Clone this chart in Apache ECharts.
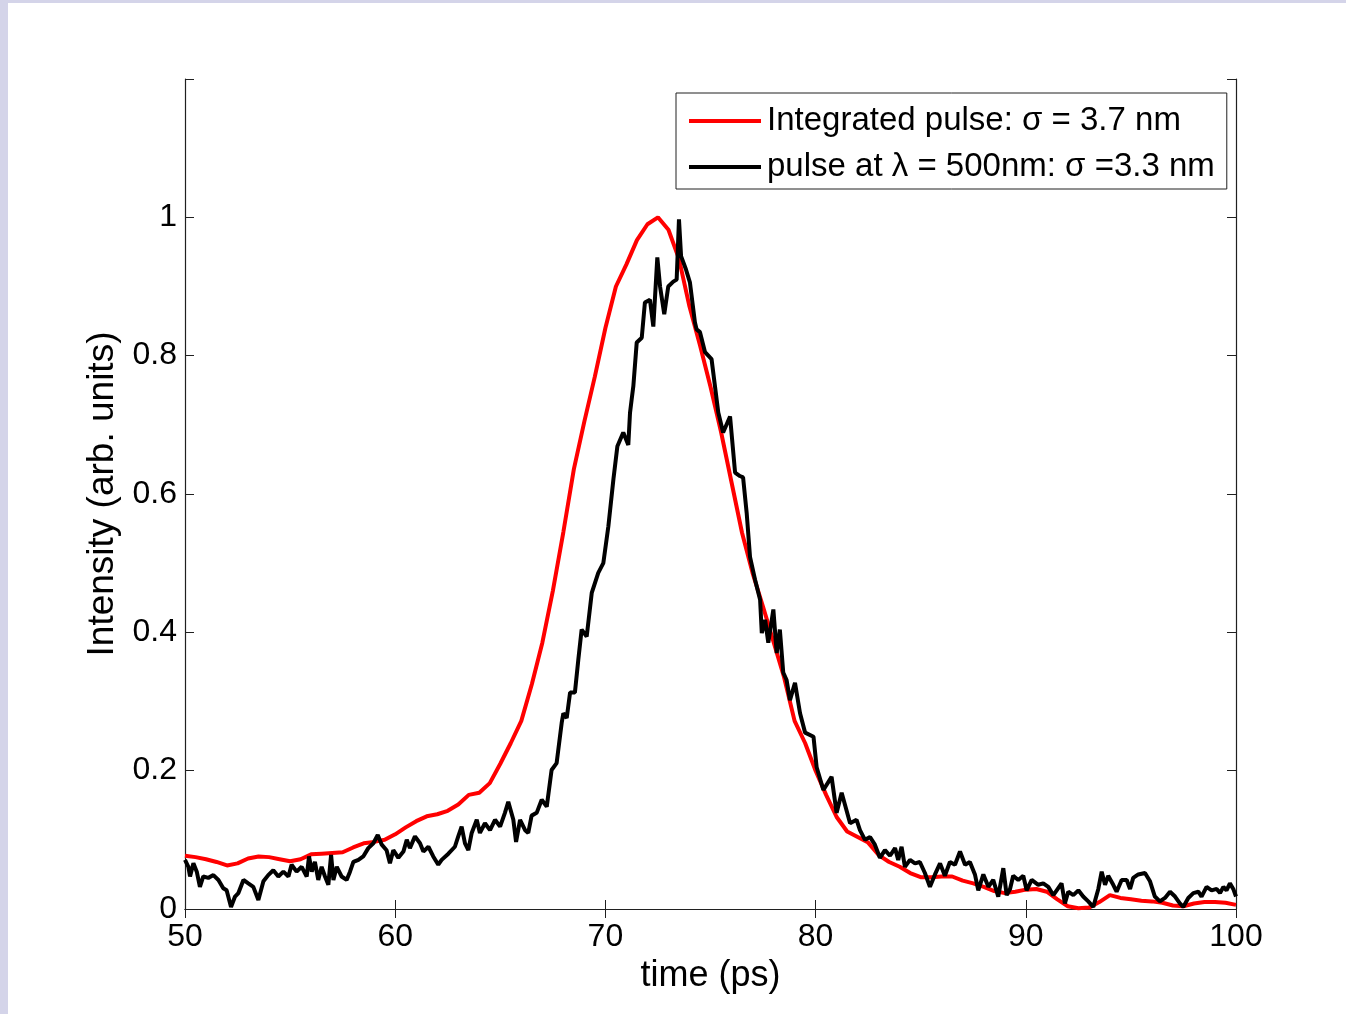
<!DOCTYPE html>
<html>
<head>
<meta charset="utf-8">
<script src="https://cdn.jsdelivr.net/npm/echarts@6/dist/echarts.min.js"></script>
<style>
html,body{margin:0;padding:0;background:#ffffff;}
#chart{width:1346px;height:1014px;}
</style>
</head>
<body>
<div id="chart"></div>
<script>
// ---- data ----
const xTicks = [50, 60, 70, 80, 90, 100];
const yTicks = [0, 0.2, 0.4, 0.6, 0.8, 1];
const seriesNames = ['Integrated pulse: σ = 3.7 nm', 'pulse at λ = 500nm: σ =3.3 nm'];

const redTime = [50,50.5,51,51.5,52,52.5,53,53.5,54,54.5,55,55.5,56,56.5,57,57.5,58,58.5,59,59.5,
  60,60.5,61,61.5,62,62.5,63,63.5,64,64.5,65,65.5,66,66.5,67,67.5,68,68.5,69,69.5,
  70,70.5,71,71.5,72,72.5,73,73.5,74,74.5,75,75.5,76,76.5,77,77.5,78,78.5,79,79.5,
  80,80.5,81,81.5,82,82.5,83,83.5,84,84.5,85,85.5,86,86.5,87,87.5,88,88.5,89,89.5,
  90,90.5,91,91.5,92,92.5,93,93.5,94,94.5,95,95.5,96,96.5,97,97.5,98,98.5,99,99.5,100];
const redValue = [0.077,0.075,0.072,0.068,0.063,0.066,0.073,0.076,0.075,0.072,0.069,0.072,0.079,0.080,0.081,0.082,0.089,0.095,0.097,0.100,
  0.108,0.118,0.127,0.134,0.137,0.142,0.151,0.165,0.168,0.182,0.21,0.24,0.272,0.325,0.385,0.46,0.545,0.636,0.705,0.77,
  0.84,0.9,0.932,0.967,0.99,1.0,0.982,0.94,0.871,0.815,0.755,0.69,0.617,0.544,0.486,0.437,0.386,0.335,0.272,0.24,
  0.2,0.165,0.133,0.112,0.104,0.096,0.078,0.068,0.061,0.052,0.046,0.046,0.047,0.047,0.041,0.037,0.032,0.026,0.023,0.025,
  0.028,0.029,0.025,0.014,0.004,0.001,0.002,0.010,0.020,0.016,0.014,0.012,0.011,0.009,0.005,0.004,0.008,0.010,0.010,0.009,0.006];

const blackTime = [50.00,50.16,50.24,50.40,50.56,50.71,50.87,51.11,51.35,51.59,51.82,51.98,52.19,52.38,52.54,52.78,53.01,53.25,53.49,53.73,
  53.96,54.20,54.44,54.68,54.92,55.07,55.31,55.55,55.79,55.90,56.03,56.18,56.34,56.50,56.66,56.82,56.95,57.06,57.22,57.45,
  57.69,57.85,58.01,58.25,58.48,58.72,58.96,59.17,59.36,59.59,59.75,59.91,60.15,60.39,60.55,60.70,60.94,61.18,61.34,61.58,
  61.81,62.05,62.21,62.53,62.84,63.00,63.16,63.32,63.48,63.64,63.88,64.03,64.27,64.51,64.75,64.99,65.22,65.38,65.62,65.75,
  65.94,66.18,66.33,66.49,66.73,66.97,67.21,67.28,67.44,67.68,67.92,68.00,68.16,68.32,68.55,68.71,68.87,69.11,69.35,69.66,
  69.90,70.14,70.38,70.57,70.85,71.09,71.17,71.25,71.33,71.49,71.73,71.88,72.12,72.28,72.47,72.60,72.80,72.99,73.23,73.39,
  73.50,73.60,73.83,74.02,74.26,74.34,74.50,74.74,75.05,75.37,75.60,75.93,76.17,76.40,76.55,76.72,76.88,77.12,77.36,77.44,
  77.60,77.75,77.99,78.15,78.30,78.46,78.62,78.78,79.02,79.26,79.50,79.90,80.05,80.37,80.76,81.00,81.24,81.64,81.95,82.11,
  82.35,82.59,82.82,83.06,83.30,83.54,83.78,83.93,84.09,84.25,84.49,84.73,84.96,85.20,85.44,85.68,85.92,86.15,86.39,86.63,
  86.87,87.11,87.34,87.58,87.74,87.98,88.22,88.45,88.69,88.93,89.09,89.25,89.40,89.64,89.88,90.04,90.28,90.59,90.83,91.07,
  91.31,91.47,91.70,91.86,92.02,92.26,92.50,92.73,92.97,93.21,93.45,93.61,93.77,93.92,94.16,94.32,94.56,94.80,94.96,95.11,
  95.35,95.67,95.91,96.14,96.38,96.62,96.86,97.10,97.33,97.49,97.73,97.97,98.21,98.36,98.60,98.84,99.08,99.24,99.40,99.55,
  99.71,99.87,100.0];
const blackValue = [0.071,0.061,0.047,0.066,0.054,0.032,0.047,0.045,0.049,0.042,0.030,0.027,0.003,0.018,0.023,0.042,0.037,0.032,0.013,0.040,
  0.049,0.056,0.047,0.054,0.047,0.064,0.054,0.061,0.047,0.076,0.054,0.068,0.042,0.061,0.047,0.035,0.078,0.042,0.061,0.047,
  0.042,0.054,0.068,0.071,0.076,0.088,0.095,0.107,0.093,0.085,0.066,0.085,0.074,0.083,0.100,0.088,0.105,0.095,0.083,0.090,
  0.076,0.064,0.071,0.080,0.090,0.105,0.119,0.095,0.085,0.110,0.129,0.110,0.124,0.114,0.129,0.119,0.139,0.155,0.129,0.097,
  0.129,0.114,0.110,0.135,0.139,0.158,0.148,0.148,0.201,0.211,0.269,0.283,0.276,0.313,0.313,0.360,0.404,0.394,0.457,0.486,
  0.500,0.553,0.621,0.669,0.689,0.671,0.717,0.737,0.756,0.819,0.826,0.877,0.881,0.842,0.942,0.900,0.860,0.900,0.907,0.910,
  0.997,0.944,0.925,0.906,0.848,0.838,0.834,0.805,0.795,0.718,0.689,0.712,0.631,0.626,0.624,0.573,0.509,0.476,0.447,0.399,
  0.418,0.385,0.433,0.370,0.404,0.342,0.331,0.302,0.327,0.283,0.255,0.249,0.205,0.172,0.191,0.139,0.168,0.124,0.129,0.114,
  0.100,0.104,0.093,0.074,0.085,0.077,0.088,0.071,0.090,0.061,0.071,0.066,0.068,0.052,0.032,0.050,0.066,0.048,0.068,0.064,
  0.083,0.064,0.068,0.050,0.027,0.050,0.032,0.042,0.018,0.059,0.020,0.029,0.048,0.042,0.048,0.027,0.042,0.035,0.037,0.032,
  0.020,0.027,0.037,0.008,0.025,0.020,0.027,0.018,0.011,0.003,0.029,0.054,0.035,0.048,0.035,0.025,0.042,0.042,0.029,0.045,
  0.050,0.052,0.040,0.018,0.011,0.016,0.025,0.018,0.008,0.003,0.016,0.023,0.025,0.018,0.032,0.027,0.029,0.023,0.032,0.027,
  0.037,0.029,0.018];

// ---- chart ----
const FONT = '"Liberation Sans", Arial, Helvetica, sans-serif';
const chart = echarts.init(document.getElementById('chart'), null, {renderer: 'canvas'});
const redData = redTime.map((t, i) => [t, redValue[i]]);
const blackData = blackTime.map((t, i) => [t, blackValue[i]]);
const axisColor = '#202020';
const yFmt = v => {
  const r = Math.round(v * 10) / 10;
  return yTicks.some(t => Math.abs(t - r) < 1e-6) ? String(r) : '';
};
const option = {
  animation: false,
  backgroundColor: '#ffffff',
  graphic: [
    {type: 'rect', shape: {x: 0, y: 0, width: 8, height: 1014}, style: {fill: '#d4d4e9'}, z: -10},
    {type: 'rect', shape: {x: 0, y: 0, width: 1346, height: 3}, style: {fill: '#d4d4e9'}, z: -10}
  ],
  grid: {left: 185, right: 110, top: 79, bottom: 105, containLabel: false},
  legend: {
    orient: 'vertical',
    left: 676, top: 93,
    data: seriesNames,
    icon: 'rect',
    itemWidth: 72, itemHeight: 4,
    itemGap: 8,
    itemStyle: {borderWidth: 0},
    backgroundColor: '#ffffff',
    borderColor: axisColor, borderWidth: 1,
    padding: [9, 12, 3, 13],
    textStyle: {fontFamily: FONT, fontSize: 33, color: '#000', lineHeight: 38, padding: [0,0,0,1]},
    selectedMode: false
  },
  xAxis: [{
    type: 'value', min: 50, max: 100, interval: 10,
    name: 'time (ps)', nameLocation: 'middle', nameGap: 46,
    nameTextStyle: {fontFamily: FONT, fontSize: 36, color: '#000'},
    axisLine: {show: true, lineStyle: {color: axisColor, width: 1.2}},
    axisTick: {show: true, inside: true, length: 9, lineStyle: {color: axisColor}},
    axisLabel: {fontFamily: FONT, fontSize: 32, color: '#000', margin: 12},
    splitLine: {show: false}
  }, {
    type: 'value', min: 50, max: 100, interval: 10, position: 'top',
    axisLine: {show: true, lineStyle: {color: axisColor, width: 1.2}},
    axisTick: {show: true, inside: true, length: 9, lineStyle: {color: axisColor}},
    axisLabel: {show: false}, splitLine: {show: false}
  }],
  yAxis: [{
    type: 'value', min: 0, max: 1.2, interval: 0.2,
    name: 'Intensity (arb. units)', nameLocation: 'middle', nameGap: 64,
    nameTextStyle: {fontFamily: FONT, fontSize: 37, color: '#000'},
    axisLine: {show: true, lineStyle: {color: axisColor, width: 1.2}},
    axisTick: {show: true, inside: true, length: 9, lineStyle: {color: axisColor}},
    axisLabel: {fontFamily: FONT, fontSize: 32, color: '#000', margin: 8, formatter: yFmt},
    splitLine: {show: false}
  }, {
    type: 'value', min: 0, max: 1.2, interval: 0.2, position: 'right',
    axisLine: {show: true, lineStyle: {color: axisColor, width: 1.2}},
    axisTick: {show: true, inside: true, length: 9, lineStyle: {color: axisColor}},
    axisLabel: {show: false}, splitLine: {show: false}
  }],
  series: [{
    name: seriesNames[0], type: 'line', data: redData,
    showSymbol: false, symbol: 'none',
    lineStyle: {color: '#ff0000', width: 4},
    itemStyle: {color: '#ff0000'}, z: 2
  }, {
    name: seriesNames[1], type: 'line', data: blackData,
    showSymbol: false, symbol: 'none',
    lineStyle: {color: '#000000', width: 4},
    itemStyle: {color: '#000000'}, z: 3
  }]
};
chart.setOption(option);
</script>
</body>
</html>
